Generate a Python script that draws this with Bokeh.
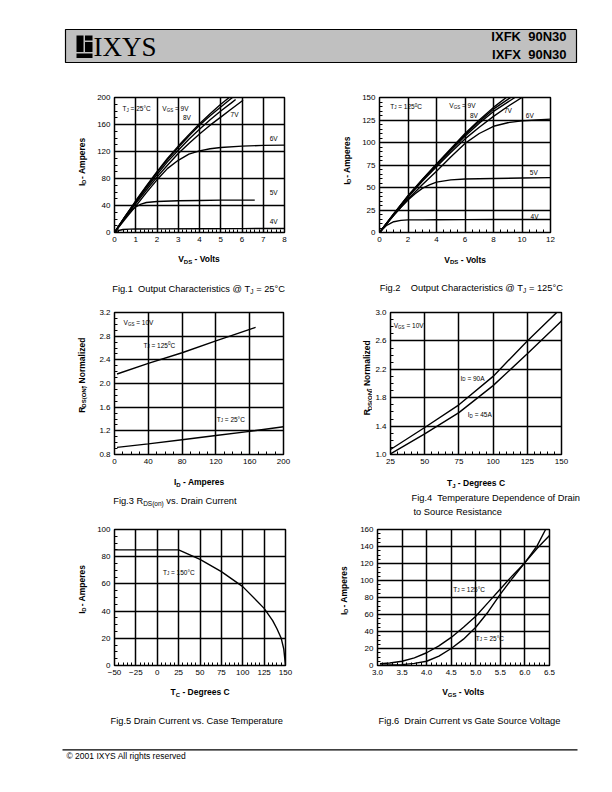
import numpy as np
from bokeh.plotting import figure
from bokeh.models import Range1d, Label, FixedTicker, NumeralTickFormatter
from bokeh.layouts import column, row
from bokeh.embed import file_html
from bokeh.resources import INLINE

SANS = "Liberation Sans"
SERIF = "Liberation Serif"

# ---------------- data ----------------
# Fig.1  Output characteristics @ Tj = 25 C  (VDS [V] -> ID [A])
f1_vds_10v = [0, 0.5, 1, 1.5, 2, 2.5, 3, 3.5, 4, 4.5, 5, 5.4]
f1_id_10v = [0, 24, 47, 69, 90, 110, 128, 145, 161, 176, 190, 200]
f1_vds_9v = [0, 0.5, 1, 1.5, 2, 2.5, 3, 3.5, 4, 4.5, 5, 5.55]
f1_id_9v = [0, 24, 46, 68, 89, 108, 126, 143, 159, 173, 186, 200]
f1_vds_8v = [0, 0.5, 1, 1.5, 2, 2.5, 3, 3.5, 4, 4.5, 5, 5.5, 5.7]
f1_id_8v = [0, 23, 45, 66, 86, 105, 122, 138, 153, 167, 180, 192, 197]
f1_vds_7v = [0, 0.5, 1, 1.5, 2, 2.5, 3, 3.5, 4, 4.5, 5, 5.5, 6.05]
f1_id_7v = [0, 22, 43, 63, 82, 100, 117, 132, 146, 159, 171, 183, 196]
f1_vds_6v = [0, 0.5, 1, 1.5, 2, 2.5, 3, 3.5, 4, 4.5, 5, 6, 7, 8]
f1_id_6v = [0, 20, 39, 59, 78, 95, 107, 116, 121, 124, 126, 128, 129, 129.5]
f1_vds_5v = [0, 0.25, 0.5, 0.75, 1, 1.25, 1.5, 2, 3, 4, 5, 6, 6.6]
f1_id_5v = [0, 12, 23, 32, 38, 42, 44.5, 46, 47, 47.5, 48, 48, 48]
f1_vds_4v = [0, 0.2, 0.4, 0.7, 1, 2, 4, 6, 8]
f1_id_4v = [0, 3, 4.5, 5, 5.2, 5.4, 5.6, 5.8, 6]
f1_xticks = [0, 1, 2, 3, 4, 5, 6, 7, 8]
f1_yticks = [0, 40, 80, 120, 160, 200]

# Fig.2  Output characteristics @ Tj = 125 C
f2_vds_10v = [0, 1, 2, 3, 4, 5, 6, 7, 8, 8.9]
f2_id_10v = [0, 21, 41, 59, 76, 93, 110, 125, 139, 150]
f2_vds_9v = [0, 1, 2, 3, 4, 5, 6, 7, 8, 9.2]
f2_id_9v = [0, 20.5, 40.5, 58.5, 75.5, 92, 108.5, 123.5, 137, 150]
f2_vds_8v = [0, 1, 2, 3, 4, 5, 6, 7, 8, 9.5]
f2_id_8v = [0, 20, 40, 58, 75, 91, 107, 121.5, 134.5, 150]
f2_vds_7v = [0, 1, 2, 3, 4, 5, 6, 7, 8, 9, 10]
f2_id_7v = [0, 20, 39, 57, 73, 89, 104, 117, 129, 140, 150]
f2_vds_6v = [0, 1, 2, 3, 4, 5, 6, 7, 8, 9, 10, 11, 12]
f2_id_6v = [0, 19, 37, 53, 68, 84, 99, 110, 118, 122, 124, 125, 126]
f2_vds_5v = [0, 0.5, 1, 1.5, 2, 2.5, 3, 3.5, 4, 5, 6, 8, 10, 12]
f2_id_5v = [0, 10, 19, 28, 36, 43, 49, 53, 56, 58.5, 59.5, 60, 60.5, 61]
f2_vds_4v = [0, 0.5, 1, 1.5, 2, 3, 4, 6, 8, 10, 12]
f2_id_4v = [0, 8, 12, 13.5, 14, 14, 14.2, 14.3, 14.5, 14.5, 14.5]
f2_xticks = [0, 2, 4, 6, 8, 10, 12]
f2_yticks = [0, 25, 50, 75, 100, 125, 150]

# Fig.3  RDS(on) normalized vs drain current
f3_id_125 = [3, 40, 80, 120, 167]
f3_r_125 = [2.16, 2.34, 2.52, 2.72, 2.95]
f3_id_25 = [3, 40, 80, 120, 160, 200]
f3_r_25 = [0.92, 0.98, 1.05, 1.12, 1.19, 1.27]
f3_xticks = [0, 40, 80, 120, 160, 200]
f3_yticks = [0.8, 1.2, 1.6, 2.0, 2.4, 2.8, 3.2]

# Fig.4  RDS(on) normalized vs junction temperature
f4_tj_90a = [25, 50, 75, 100, 125, 146.5]
f4_r_90a = [1.07, 1.38, 1.70, 2.10, 2.60, 3.0]
f4_tj_45a = [25, 50, 75, 100, 125, 150]
f4_r_45a = [1.01, 1.29, 1.59, 1.97, 2.42, 2.88]
f4_xticks = [25, 50, 75, 100, 125, 150]
f4_yticks = [1.0, 1.4, 1.8, 2.2, 2.6, 3.0]

# Fig.5  Drain current vs case temperature
f5_tc = [-50, 25, 50, 75, 100, 125, 135, 140, 145, 148, 150]
f5_id = [85, 85, 78, 69, 58, 42, 33, 27, 20, 12, 0]
f5_xticks = [-50, -25, 0, 25, 50, 75, 100, 125, 150]
f5_yticks = [0, 20, 40, 60, 80, 100]

# Fig.6  Drain current vs gate-source voltage
f6_vgs_125 = [3.05, 3.25, 3.5, 3.75, 4.0, 4.25, 4.5, 4.75, 5.0, 5.25, 5.5, 5.75, 6.0, 6.25, 6.5]
f6_id_125 = [2, 3, 5, 9, 15, 23, 33, 45, 58, 74, 90, 106, 121, 138, 153]
f6_vgs_25 = [3.05, 3.5, 3.75, 4.0, 4.25, 4.5, 4.75, 5.0, 5.25, 5.5, 5.75, 6.0, 6.25, 6.42]
f6_id_25 = [0.5, 1, 2.5, 5, 11, 20, 31, 45, 63, 84, 103, 121, 141, 160]
f6_xticks = [3.0, 3.5, 4.0, 4.5, 5.0, 5.5, 6.0, 6.5]
f6_yticks = [0, 20, 40, 60, 80, 100, 120, 140, 160]

# ---------------- text metrics (Arial / Liberation Sans) ----------------
_UP_R = dict(zip("ABCDEFGHIJKLMNOPQRSTUVWXYZ", [667, 667, 722, 722, 667, 611, 778, 722, 278, 500, 667, 556, 833, 722, 778, 667, 778, 722, 667, 611, 722, 667, 944, 667, 667, 611]))
_LO_R = dict(zip("abcdefghijklmnopqrstuvwxyz", [556, 556, 500, 556, 556, 278, 556, 556, 222, 222, 500, 222, 833, 556, 556, 556, 556, 333, 500, 278, 556, 500, 722, 500, 500, 500]))
_UP_B = dict(zip("ABCDEFGHIJKLMNOPQRSTUVWXYZ", [722, 722, 722, 722, 667, 611, 778, 722, 278, 556, 722, 611, 833, 722, 778, 667, 778, 722, 667, 611, 722, 667, 944, 667, 667, 611]))
_LO_B = dict(zip("abcdefghijklmnopqrstuvwxyz", [556, 611, 556, 611, 556, 333, 611, 611, 278, 278, 556, 278, 889, 611, 611, 611, 611, 389, 556, 333, 611, 556, 778, 556, 556, 500]))
_SYM = {" ": 278, "(": 333, ")": 333, ",": 278, "-": 333, ".": 278, "/": 278, ":": 278,
        "=": 584, "@": 1015, "°": 400, "©": 737}


def tw(s, size, bold=False):
    tot = 0
    for c in s:
        if c.isdigit():
            tot += 556
        elif c in _SYM:
            tot += _SYM[c]
        elif c.isupper():
            tot += (_UP_B if bold else _UP_R).get(c, 667)
        else:
            tot += (_LO_B if bold else _LO_R).get(c, 556)
    return tot / 1000.0 * size


def rich(p, conv, segs, px, py, align="left", angle=0.0, font=SANS):
    """segs: list of (text, size_px, baseline_shift_px, bold); px,py are page pixels."""
    total = sum(tw(t, s, b) for t, s, d, b in segs)
    off = {"left": 0.0, "center": -total / 2.0, "right": -total}[align]
    for t, s, d, b in segs:
        txt = t.lstrip(" ")
        lead = tw(t[:len(t) - len(txt)], s, b)
        a = off + lead
        if angle:
            x, y = px + d, py - a
        else:
            x, y = px + a, py + d
        dx, dy = conv(x, y)
        p.add_layout(Label(x=dx, y=dy, text=txt, text_font=font, text_font_size=f"{s}px",
                           text_font_style="bold" if b else "normal", text_color="black",
                           text_align="left", text_baseline="middle", angle=angle))
        off += tw(t, s, b)


def minors(ticks, n):
    out = []
    for a, b in zip(ticks[:-1], ticks[1:]):
        out += [float(v) for v in np.linspace(a, b, n + 1)[1:-1]]
    return out


def text_fig(x0, y0, w, h):
    """A blank figure whose data coordinates are page pixels (y downwards)."""
    p = figure(width=w, height=h, x_range=Range1d(x0, x0 + w), y_range=Range1d(y0 + h, y0),
               x_axis_location=None, y_axis_location=None, min_border=0, outline_line_color=None,
               output_backend="svg", toolbar_location=None, tools="")
    p.grid.visible = False
    return p


def chart(x0, y0, w, h, fl, ft, fw, fh, xr, yr, xt, yt, xn, yn, xfmt=None, yfmt=None):
    p = figure(width=w, height=h, x_range=Range1d(xr[0], xr[1]), y_range=Range1d(yr[0], yr[1]),
               min_border_left=fl, min_border_right=w - fl - fw, min_border_top=ft,
               min_border_bottom=h - ft - fh, output_backend="svg", toolbar_location=None, tools="")
    xtk = FixedTicker(ticks=xt, minor_ticks=minors(xt, xn))
    ytk = FixedTicker(ticks=yt, minor_ticks=minors(yt, yn))
    p.xaxis.ticker = xtk
    p.yaxis.ticker = ytk
    p.xgrid.ticker = xtk
    p.ygrid.ticker = ytk
    if xfmt:
        p.xaxis.formatter = NumeralTickFormatter(format=xfmt)
    if yfmt:
        p.yaxis.formatter = NumeralTickFormatter(format=yfmt)
    for ax in (p.xaxis[0], p.yaxis[0]):
        ax.axis_line_color = None
        ax.major_tick_in = 0
        ax.major_tick_out = 0
        ax.minor_tick_in = 3
        ax.minor_tick_out = 0
        ax.minor_tick_line_color = "black"
        ax.minor_tick_line_width = 1
        ax.major_label_text_font = SANS
        ax.major_label_text_font_size = "8px"
        ax.major_label_text_color = "black"
        ax.major_label_standoff = 4
    for g in (p.xgrid[0], p.ygrid[0]):
        g.grid_line_color = "black"
        g.grid_line_width = 1.5
    p.outline_line_color = "black"
    p.outline_line_width = 1.5
    fx, fy = x0 + fl, y0 + ft

    def to_data(px, py):
        return (xr[0] + (px - fx) * (xr[1] - xr[0]) / fw,
                yr[1] - (py - fy) * (yr[1] - yr[0]) / fh)

    def to_page(x, y):
        return (fx + (x - xr[0]) * fw / (xr[1] - xr[0]),
                fy + (yr[1] - y) * fh / (yr[1] - yr[0]))
    return p, to_data, to_page


def inlabel(p, conv, to_page, segs, x, y):
    px, py = to_page(x, y)
    rich(p, conv, segs, px, py)


ident = lambda x, y: (x, y)
LW = 1.4
S, SS, SD = 6.5, 4.5, 1.5        # in-plot label size, subscript size, subscript shift
A, AS, AD = 8.5, 6.0, 2.5        # axis label sizes
C, CS, CD = 9.3, 6.5, 2.5        # caption sizes
ang = np.pi / 2

# ---------------- header ----------------
hdr = text_fig(0, 0, 612, 76)
hdr.quad(left=65, right=576, top=29, bottom=62, fill_color="#c0c0c0", line_color="black", line_width=1.2)
hdr.quad(left=[76, 84.5, 84.5, 76], right=[83, 92, 92, 92], top=[35, 35, 41.5, 53], bottom=[51.5, 40, 51.5, 57.5],
         fill_color="black", line_color=None)
hdr.add_layout(Label(x=93, y=46.5, text="IXYS", text_font=SERIF, text_font_size="27px", text_color="black",
                     text_align="left", text_baseline="middle"))
rich(hdr, ident, [("IXFK", 13, 0, True), ("  90N30", 13, 0, True)], 566, 36, "right")
rich(hdr, ident, [("IXFX", 13, 0, True), ("  90N30", 13, 0, True)], 566, 54, "right")

# ---------------- row 1 ----------------
yl1 = text_fig(0, 76, 92, 174)
p1, d1, g1 = chart(92, 76, 238, 174, 22, 21, 170, 136, (0, 8), (0, 200), f1_xticks, f1_yticks, 5, 4)
for xs, ys in [(f1_vds_10v, f1_id_10v), (f1_vds_9v, f1_id_9v), (f1_vds_8v, f1_id_8v), (f1_vds_7v, f1_id_7v),
               (f1_vds_6v, f1_id_6v), (f1_vds_5v, f1_id_5v), (f1_vds_4v, f1_id_4v)]:
    p1.line(xs, ys, line_color="black", line_width=LW)
inlabel(p1, d1, g1, [("T", S, 0, False), ("J", SS, SD, False), (" = 25°C", S, 0, False)], 0.38, 183)
inlabel(p1, d1, g1, [("V", S, 0, False), ("GS", SS, SD, False), (" =  9V", S, 0, False)], 2.25, 183)
inlabel(p1, d1, g1, [("8V", S, 0, False)], 3.22, 170)
inlabel(p1, d1, g1, [("7V", S, 0, False)], 5.46, 174.5)
inlabel(p1, d1, g1, [("6V", S, 0, False)], 7.3, 140)
inlabel(p1, d1, g1, [("5V", S, 0, False)], 7.3, 59)
inlabel(p1, d1, g1, [("4V", S, 0, False)], 7.3, 16)
rich(yl1, ident, [("I", A, 0, True), ("D", AS, AD, True), (" - Amperes", A, 0, True)], 81, 164.7, "center", ang)

yl2 = text_fig(330, 76, 25, 174)
p2, d2, g2 = chart(355, 76, 257, 174, 24, 19, 171, 137, (0, 12), (0, 150), f2_xticks, f2_yticks, 4, 5)
for xs, ys in [(f2_vds_10v, f2_id_10v), (f2_vds_9v, f2_id_9v), (f2_vds_8v, f2_id_8v), (f2_vds_7v, f2_id_7v),
               (f2_vds_6v, f2_id_6v), (f2_vds_5v, f2_id_5v), (f2_vds_4v, f2_id_4v)]:
    p2.line(xs, ys, line_color="black", line_width=LW)
inlabel(p2, d2, g2, [("T", S, 0, False), ("J", SS, SD, False), (" = 125", S, 0, False), ("0", SS, -2, False),
                     ("C", S, 0, False)], 0.75, 140)
inlabel(p2, d2, g2, [("V", S, 0, False), ("GS", SS, SD, False), (" =  9V", S, 0, False)], 4.9, 141)
inlabel(p2, d2, g2, [("8V", S, 0, False)], 6.35, 130)
inlabel(p2, d2, g2, [("7V", S, 0, False)], 8.73, 135.5)
inlabel(p2, d2, g2, [("6V", S, 0, False)], 10.27, 130)
inlabel(p2, d2, g2, [("5V", S, 0, False)], 10.55, 67)
inlabel(p2, d2, g2, [("4V", S, 0, False)], 10.6, 18)
rich(yl2, ident, [("I", A, 0, True), ("D", AS, AD, True), (" - Amperes", A, 0, True)], 346, 163.3, "center", ang)

st1 = text_fig(0, 250, 612, 48)
rich(st1, ident, [("V", A, 0, True), ("DS", AS, AD, True), (" - Volts", A, 0, True)], 198.8, 258.5, "center")
rich(st1, ident, [("Fig.1", C, 0, False), ("  Output Characteristics @ T", C, 0, False), ("J", CS, CD, False),
                  (" = 25°C", C, 0, False)], 111.7, 288.3)
rich(st1, ident, [("V", A, 0, True), ("DS", AS, AD, True), (" - Volts", A, 0, True)], 465, 259, "center")
rich(st1, ident, [("Fig.2", C, 0, False), ("    Output Characteristics @ T", C, 0, False), ("J", CS, CD, False),
                  (" = 125°C", C, 0, False)], 379.3, 287.3)

# ---------------- row 2 ----------------
yl3 = text_fig(0, 298, 92, 176)
p3, d3, g3 = chart(92, 298, 238, 176, 22, 11, 169, 145, (0, 200), (0.8, 3.2), f3_xticks, f3_yticks, 4, 4,
                   yfmt="0.0")
p3.line(f3_id_125, f3_r_125, line_color="black", line_width=LW)
p3.line(f3_id_25, f3_r_25, line_color="black", line_width=LW)
inlabel(p3, d3, g3, [("V", S, 0, False), ("GS", SS, SD, False), (" = 10V", S, 0, False)], 10.7, 3.03)
inlabel(p3, d3, g3, [("T", S, 0, False), ("J", SS, SD, False), (" = 125", S, 0, False), ("0", SS, -2, False),
                     ("C", S, 0, False)], 34.3, 2.65)
inlabel(p3, d3, g3, [("T", S, 0, False), ("J", SS, SD, False), (" = 25°C", S, 0, False)], 121, 1.4)
rich(yl3, ident, [("R", A, 0, True), ("DS(ON)", AS, AD, True), (" - Normalized", A, 0, True)], 81, 381.7,
     "center", ang)

yl4 = text_fig(330, 298, 42, 176)
p4, d4, g4 = chart(372, 298, 240, 176, 18, 14, 171, 145, (25, 150), (1.0, 3.0), f4_xticks, f4_yticks, 5, 4,
                   yfmt="0.0")
p4.line(f4_tj_90a, f4_r_90a, line_color="black", line_width=LW)
p4.line(f4_tj_45a, f4_r_45a, line_color="black", line_width=LW)
inlabel(p4, d4, g4, [("V", S, 0, False), ("GS", SS, SD, False), (" = 10V", S, 0, False)], 27.4, 2.81)
inlabel(p4, d4, g4, [("I", S, 0, False), ("D", SS, SD, False), (" = 90A", S, 0, False)], 76.2, 2.07)
inlabel(p4, d4, g4, [("I", S, 0, False), ("D", SS, SD, False), (" = 45A", S, 0, False)], 81.5, 1.56)
rich(yl4, ident, [("R", A, 0, True), ("DS(ON)", AS, AD, True), (" - Normalized", A, 0, True)], 366.5, 385,
     "center", ang)

st2 = text_fig(0, 474, 612, 44)
rich(st2, ident, [("I", A, 0, True), ("D", AS, AD, True), (" - Amperes", A, 0, True)], 198.8, 481.5, "center")
rich(st2, ident, [("Fig.3 R", C, 0, False), ("DS(on)", CS, CD, False), (" vs. Drain Current", C, 0, False)],
     112.7, 500)
rich(st2, ident, [("T", A, 0, True), ("J", AS, AD, True), (" - Degrees C", A, 0, True)], 475.5, 482.5, "center")
rich(st2, ident, [("Fig.4", C, 0, False), ("  Temperature Dependence of Drain", C, 0, False)], 411, 497.5)
rich(st2, ident, [("to Source Resistance", C, 0, False)], 413, 511)

# ---------------- row 3 ----------------
yl5 = text_fig(0, 518, 92, 166)
p5, d5, g5 = chart(92, 518, 238, 166, 22, 9, 171, 138, (-50, 150), (0, 100), f5_xticks, f5_yticks, 5, 4)
p5.line(f5_tc, f5_id, line_color="black", line_width=LW)
inlabel(p5, d5, g5, [("T", S, 0, False), ("J", SS, SD, False), (" = 150°C", S, 0, False)], 6.7, 68.5)
rich(yl5, ident, [("I", A, 0, True), ("D", AS, AD, True), (" - Amperes", A, 0, True)], 81, 595.5, "center", ang)

yl6 = text_fig(330, 518, 25, 166)
p6, d6, g6 = chart(355, 518, 257, 166, 22, 11, 172, 136, (3.0, 6.5), (0, 160), f6_xticks, f6_yticks, 5, 4,
                   xfmt="0.0")
p6.line(f6_vgs_125, f6_id_125, line_color="black", line_width=LW)
p6.line(f6_vgs_25, f6_id_25, line_color="black", line_width=LW)
inlabel(p6, d6, g6, [("T", S, 0, False), ("J", SS, SD, False), (" = 125°C", S, 0, False)], 4.54, 90)
inlabel(p6, d6, g6, [("T", S, 0, False), ("J", SS, SD, False), (" = 25°C", S, 0, False)], 5.0, 32)
rich(yl6, ident, [("I", A, 0, True), ("D", AS, AD, True), (" - Amperes", A, 0, True)], 343, 597, "center", ang)

st3 = text_fig(0, 684, 612, 58)
rich(st3, ident, [("T", A, 0, True), ("C", AS, AD, True), (" - Degrees C", A, 0, True)], 199.6, 691.5, "center")
rich(st3, ident, [("Fig.5 Drain Current vs. Case Temperature", C, 0, False)], 110, 720.5)
rich(st3, ident, [("V", A, 0, True), ("GS", AS, AD, True), (" - Volts", A, 0, True)], 463, 691.5, "center")
rich(st3, ident, [("Fig.6", C, 0, False), ("  Drain Current vs Gate Source Voltage", C, 0, False)], 378, 720.5)

# ---------------- footer ----------------
ftr = text_fig(0, 742, 612, 48)
ftr.segment(x0=[62], y0=[749.3], x1=[577], y1=[749.3], line_color="black", line_width=1.2)
rich(ftr, ident, [("© 2001 IXYS All rights reserved", 8.5, 0, False)], 66, 755.5)

layout = column(hdr,
                column(row(yl1, p1, yl2, p2), st1),
                column(row(yl3, p3, yl4, p4), st2),
                column(row(yl5, p5, yl6, p6), st3),
                ftr)
open("out.html", "w").write(file_html(layout, INLINE))
